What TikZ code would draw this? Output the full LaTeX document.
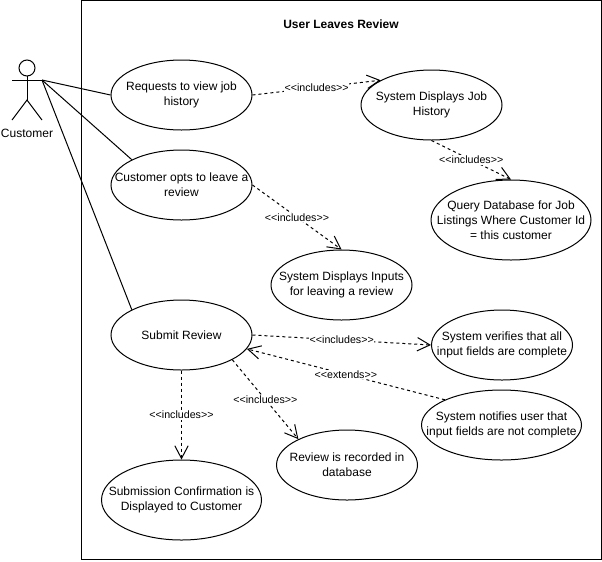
\documentclass[tikz,border=0pt]{standalone}
\usepackage{fontspec}
\setmainfont{Liberation Sans}
\usetikzlibrary{shapes.geometric, arrows.meta}
\tikzstyle{usecase} = [
    ellipse,
    inner xsep=-30pt,
    inner ysep=-12pt,
    minimum width=105.75pt,
    minimum height=52.5pt,
    align=center,
    draw=black,
    font=\fontsize{9}{11.25}\selectfont
]
\tikzstyle{widecase} = [
    usecase,
    minimum width=120pt
]
\tikzstyle{arrow} = [
    dash pattern=on 2.25pt off 2.25pt,
    -{Straight Barb[length=9.5pt,width=10pt]}
]
\tikzstyle{stereo} = [
    fill=white,
    inner sep=0.5pt,
    font=\fontsize{8}{10}\selectfont
]

\begin{document}
\begin{tikzpicture}[x=0.75pt, y=-0.75pt, line width=0.75pt]
        \useasboundingbox (0,0) rectangle (602,561);
        \node (system) [draw=black, outer sep=0pt, minimum width=390pt, minimum height=419.5pt, anchor=north west] at (81.5,0.5) {};
        \node (title) [font=\fontsize{9}{11}\selectfont\bfseries] at (341,24) {User Leaves Review};

        % actor
        \node (head) [circle, draw=black, minimum size=12pt, inner sep=0pt, outer sep=0pt] at (27,68) {};
        \coordinate (hip) at (27,100);
        \coordinate (lefthand) at (12,80);
        \coordinate (righthand) at (42,80);
        \coordinate (leftfoot) at (12,120);
        \coordinate (rightfoot) at (42,120);
        \draw (head) -- (hip);
        \draw (lefthand) -- (righthand);
        \draw (leftfoot) -- (hip) -- (rightfoot);
        \node (customer) [font=\fontsize{9}{11}\selectfont] at (27,133) {Customer};

        % use cases
        \node (viewhistory) [usecase] at (181.5,95) {Requests to view job\\history};
        \node (optreview) [usecase] at (181.5,185) {Customer opts to leave a\\review};
        \node (submit) [usecase] at (181.5,335) {Submit Review};
        \node (displayhistory) [usecase] at (431.5,105) {System Displays Job\\History};
        \node (query) [widecase, minimum height=60pt] at (511,220) {Query Database for Job\\Listings Where Customer Id\\= this customer};
        \node (inputs) [usecase] at (341.5,285) {System Displays Inputs\\for leaving a review};
        \node (verify) [usecase] at (502,345) {System verifies that all\\input fields are complete};
        \node (notify) [widecase] at (501.5,425) {System notifies user that\\input fields are not complete};
        \node (recorded) [usecase] at (347,465) {Review is recorded in\\database};
        \node (confirm) [widecase, minimum height=60pt] at (181.5,500) {Submission Confirmation is\\Displayed to Customer};

        \draw (righthand) -- (viewhistory.west);
        \draw (righthand) -- (optreview.153);
        \draw (righthand) -- (submit.153);
        \draw[arrow] (viewhistory.east) -- node[stereo] {<{}<includes>{}>} (displayhistory.154);
        \draw[arrow] (displayhistory.south) -- node[stereo] {<{}<includes>{}>} (query.north);
        \draw[arrow] (optreview.east) -- node[stereo] {<{}<includes>{}>} (inputs.north);
        \draw[arrow] (submit.east) -- node[stereo] {<{}<includes>{}>} (verify.west);
        \draw[arrow] (notify.156) -- node[stereo] {<{}<extends>{}>} (submit.-12);
        \draw[arrow] (submit.-26) -- node[stereo] {<{}<includes>{}>} (recorded.152);
        \draw[arrow] (submit.south) -- node[stereo] {<{}<includes>{}>} (confirm.north);
    \end{tikzpicture}
\end{document}
